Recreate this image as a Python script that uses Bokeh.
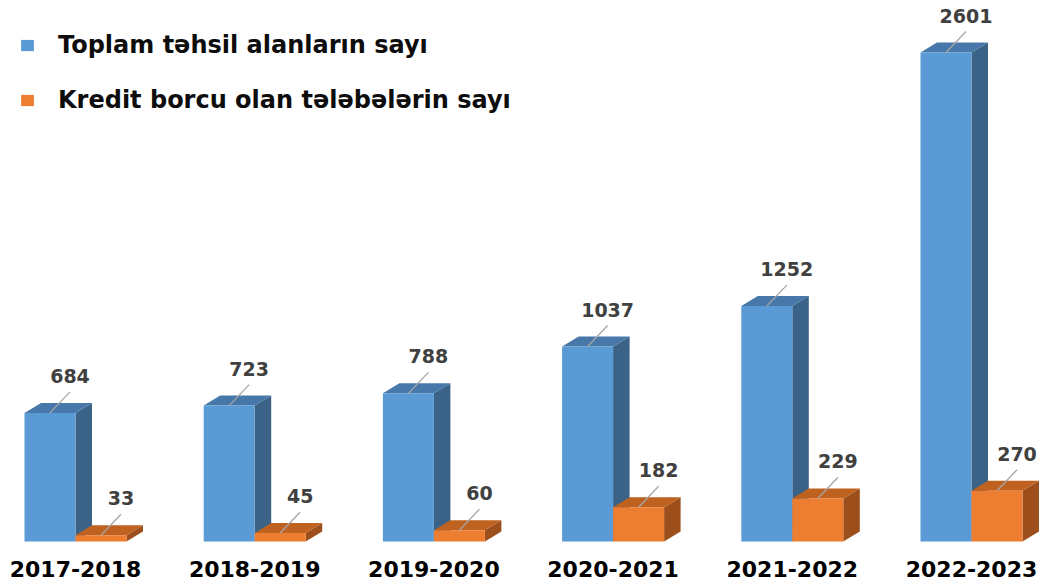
from bokeh.plotting import figure
from bokeh.models import Range1d, FixedTicker, Legend, LegendItem
from bokeh.core.properties import value
from bokeh.embed import file_html
from bokeh.resources import INLINE

# ---- data ----
years = ["2017-2018", "2018-2019", "2019-2020", "2020-2021", "2021-2022", "2022-2023"]
total_students = [684, 723, 788, 1037, 1252, 2601]
debtor_students = [33, 45, 60, 182, 229, 270]
series_names = ["Toplam təhsil alanların sayı", "Kredit borcu olan tələbələrin sayı"]

# ---- layout / style constants ----
W, H = 1049, 587
BOTTOM = 37
GROUP_PX = 179.2          # px between group centres
X0_PX = 75.0              # first group centre from frame left
PX_PER_UNIT = 0.188       # vertical px per student
BASE_PX = 541.0           # baseline from frame top
FRAME_H = H - BOTTOM

BAR_W = 51.0 / GROUP_PX
DEPTH_X = 16.5 / GROUP_PX
DEPTH_Y = 10.0 / PX_PER_UNIT

colors = {
    "front": ["#5B9BD5", "#ED7D31"],
    "top": ["#4778A9", "#BF611F"],
    "side": ["#3A6387", "#9D4F1B"],
}

p = figure(
    width=W, height=H,
    x_range=Range1d(-X0_PX / GROUP_PX, (W - X0_PX) / GROUP_PX),
    y_range=Range1d(-(FRAME_H - BASE_PX) / PX_PER_UNIT, BASE_PX / PX_PER_UNIT),
    output_backend="svg", toolbar_location=None, y_axis_location=None,
    min_border_left=0, min_border_right=0, min_border_top=0, min_border_bottom=BOTTOM,
    outline_line_color=None, background_fill_color="white", border_fill_color="white",
)
p.grid.visible = False

front_renderers = []
for s, vals in enumerate([total_students, debtor_students]):
    lefts = [i - BAR_W + s * BAR_W for i in range(len(years))]
    rights = [l + BAR_W for l in lefts]
    # side faces
    p.patches(
        xs=[[r, r + DEPTH_X, r + DEPTH_X, r] for r in rights],
        ys=[[0, DEPTH_Y, v + DEPTH_Y, v] for v in vals],
        fill_color=colors["side"][s], line_color=None,
    )
    # top faces
    p.patches(
        xs=[[l, r, r + DEPTH_X, l + DEPTH_X] for l, r in zip(lefts, rights)],
        ys=[[v, v, v + DEPTH_Y, v + DEPTH_Y] for v in vals],
        fill_color=colors["top"][s], line_color=None,
    )
    # front faces
    fr = p.quad(left=lefts, right=rights, bottom=0, top=vals,
                fill_color=colors["front"][s], line_color=None)
    front_renderers.append(fr)
    # leader lines and value labels
    centres = [l + BAR_W / 2 for l in lefts]
    p.segment(
        x0=centres, y0=vals,
        x1=[c + 20 / GROUP_PX for c in centres],
        y1=[v + 21 / PX_PER_UNIT for v in vals],
        line_color="#A6A6A6", line_width=1.3,
    )
    p.text(
        x=[c + 20 / GROUP_PX for c in centres],
        y=[v + 37 / PX_PER_UNIT for v in vals],
        text=[str(v) for v in vals],
        text_align="center", text_baseline="middle",
        text_font=value("DejaVu Sans"), text_font_style="bold",
        text_font_size="19px", text_color="#404040",
    )

xa = p.xaxis[0]
xa.ticker = FixedTicker(ticks=list(range(len(years))))
xa.major_label_overrides = {i: y for i, y in enumerate(years)}
xa.axis_line_color = None
xa.major_tick_line_color = None
xa.minor_tick_line_color = None
xa.major_label_standoff = 4
xa.major_label_text_font = "DejaVu Sans"
xa.major_label_text_font_style = "bold"
xa.major_label_text_font_size = "22px"
xa.major_label_text_color = "#000000"

legend = Legend(
    items=[LegendItem(label=series_names[i], renderers=[front_renderers[i]]) for i in range(2)],
    location=(19, FRAME_H - 35 - 79),
    padding=0, margin=0, spacing=27,
    glyph_width=16, glyph_height=14, label_height=26, label_standoff=23,
    label_text_font="DejaVu Sans", label_text_font_style="bold",
    label_text_font_size="24px", label_text_color="#0D0D0D",
    border_line_color=None, background_fill_alpha=0,
)
p.add_layout(legend)

open("out.html", "w").write(file_html(p, INLINE))
